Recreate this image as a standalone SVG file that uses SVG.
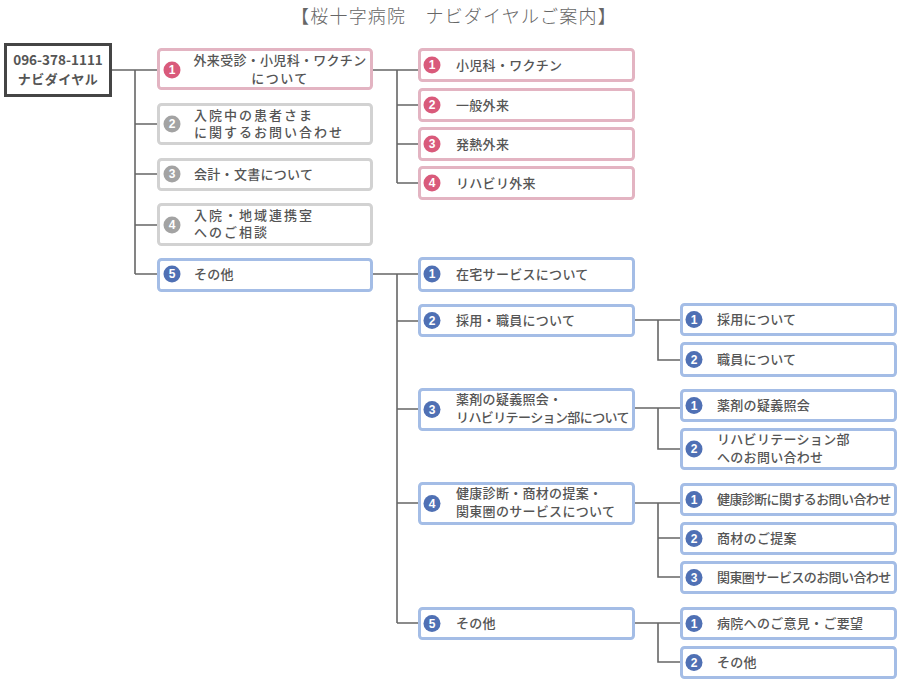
<svg xmlns="http://www.w3.org/2000/svg" width="900" height="685" viewBox="0 0 900 685">
<style>
text{font-family:"Noto Sans CJK JP","Noto Sans",sans-serif;fill:#555;}
.t{font-size:13px;font-weight:500;letter-spacing:0.3px;}
.w{letter-spacing:2px;}
.n{font-size:12px;font-weight:bold;fill:#fff;text-anchor:middle;font-family:"Liberation Sans",sans-serif;}
.bx{fill:#fff;stroke-width:3;}
.pk .bx{stroke:#e3b4c2;}
.pk circle{fill:#d95a7b;}
.gy .bx{stroke:#d2d2d2;}
.gy circle{fill:#a3a3a3;}
.bl .bx{stroke:#a4bde6;}
.bl circle{fill:#4f70b4;}
.con path{fill:none;stroke:#666;stroke-width:1.6;}
</style>
<text x="454" y="23" text-anchor="middle" style="font-size:18px;font-weight:300;letter-spacing:1.2px;fill:#666;">【桜十字病院　ナビダイヤルご案内】</text>
<g class="con">
<path d="M111,70H157M135,70V274M135,124H157M135,174H157M135,225H157M135,274H157"/>
<path d="M373,70H418M397,70V183M397,105H418M397,144H418M397,183H418"/>
<path d="M373,274H419M397,274V623M397,321H419M397,409H419M397,503H419M397,623H419"/>
<path d="M635,320H680M658,320V360H680"/>
<path d="M635,408H680M658,408V449H680"/>
<path d="M635,503H680M658,503V577H680M658,538H680"/>
<path d="M635,623H680M658,623V662H680"/>
</g>
<g id="root">
<rect x="5.5" y="44.5" width="105" height="51" fill="#fff" stroke="#454545" stroke-width="3"/>
<text x="58" y="65" text-anchor="middle" style="font-size:13.5px;font-weight:bold;">096-378-1111</text>
<text x="58" y="84" text-anchor="middle" style="font-size:13px;font-weight:bold;letter-spacing:0.5px;">ナビダイヤル</text>
</g>
<g id="l1-1" class="pk">
<rect class="bx" x="158.5" y="49.5" width="213" height="39" rx="3"/>
<circle cx="172" cy="70" r="8.5"/><text class="n" x="172" y="74.3">1</text>
<text class="t" x="280" y="65" text-anchor="middle">外来受診・小児科・ワクチン</text>
<text class="t" x="280" y="82.5" text-anchor="middle" style="letter-spacing:1.5px">について</text>
</g>
<g id="l1-2" class="gy">
<rect class="bx" x="158.5" y="104.5" width="213" height="39" rx="3"/>
<circle cx="172" cy="124" r="8.5"/><text class="n" x="172" y="128.3">2</text>
<text class="t w" x="194" y="119.5">入院中の患者さま</text>
<text class="t w" x="194" y="137">に関するお問い合わせ</text>
</g>
<g id="l1-3" class="gy">
<rect class="bx" x="158.5" y="159.5" width="213" height="30" rx="3"/>
<circle cx="172" cy="174" r="8.5"/><text class="n" x="172" y="178.3">3</text>
<text class="t" x="194" y="178.5">会計・文書について</text>
</g>
<g id="l1-4" class="gy">
<rect class="bx" x="158.5" y="204.5" width="213" height="40" rx="3"/>
<circle cx="172" cy="225" r="8.5"/><text class="n" x="172" y="229.3">4</text>
<text class="t w" x="194" y="219.5">入院・地域連携室</text>
<text class="t w" x="194" y="237">へのご相談</text>
</g>
<g id="l1-5" class="bl">
<rect class="bx" x="158.5" y="259.5" width="213" height="31" rx="3"/>
<circle cx="172" cy="274" r="8.5"/><text class="n" x="172" y="278.3">5</text>
<text class="t" x="194" y="278.5">その他</text>
</g>
<g id="p1" class="pk">
<rect class="bx" x="419.5" y="49.5" width="214" height="31" rx="3"/>
<circle cx="432" cy="65" r="8.5"/><text class="n" x="432" y="69.3">1</text>
<text class="t" x="456" y="69.5">小児科・ワクチン</text>
</g>
<g id="p2" class="pk">
<rect class="bx" x="419.5" y="89.5" width="214" height="31" rx="3"/>
<circle cx="432" cy="105" r="8.5"/><text class="n" x="432" y="109.3">2</text>
<text class="t" x="456" y="109.5">一般外来</text>
</g>
<g id="p3" class="pk">
<rect class="bx" x="419.5" y="128.5" width="214" height="31" rx="3"/>
<circle cx="432" cy="144" r="8.5"/><text class="n" x="432" y="148.3">3</text>
<text class="t" x="456" y="148.5">発熱外来</text>
</g>
<g id="p4" class="pk">
<rect class="bx" x="419.5" y="167.5" width="214" height="31" rx="3"/>
<circle cx="432" cy="183" r="8.5"/><text class="n" x="432" y="187.3">4</text>
<text class="t" x="456" y="187.5">リハビリ外来</text>
</g>
<g id="b1" class="bl">
<rect class="bx" x="419.5" y="258.5" width="214" height="32" rx="3"/>
<circle cx="432" cy="274" r="8.5"/><text class="n" x="432" y="278.3">1</text>
<text class="t" x="456" y="278.5">在宅サービスについて</text>
</g>
<g id="b2" class="bl">
<rect class="bx" x="419.5" y="305.5" width="214" height="30" rx="3"/>
<circle cx="432" cy="320.5" r="8.5"/><text class="n" x="432" y="324.8">2</text>
<text class="t" x="456" y="325">採用・職員について</text>
</g>
<g id="b3" class="bl">
<rect class="bx" x="419.5" y="389.5" width="214" height="40" rx="3"/>
<circle cx="432" cy="409.5" r="8.5"/><text class="n" x="432" y="413.8">3</text>
<text class="t" x="456" y="404">薬剤の疑義照会・</text>
<text class="t" x="456" y="422" style="letter-spacing:-0.6px">リハビリテーション部について</text>
</g>
<g id="b4" class="bl">
<rect class="bx" x="419.5" y="483.5" width="214" height="40" rx="3"/>
<circle cx="432" cy="503.5" r="8.5"/><text class="n" x="432" y="507.8">4</text>
<text class="t" x="456" y="498">健康診断・商材の提案・</text>
<text class="t" x="456" y="516">関東圏のサービスについて</text>
</g>
<g id="b5" class="bl">
<rect class="bx" x="419.5" y="608.5" width="214" height="30" rx="3"/>
<circle cx="432" cy="623.5" r="8.5"/><text class="n" x="432" y="627.8">5</text>
<text class="t" x="456" y="628">その他</text>
</g>
<g id="c1" class="bl">
<rect class="bx" x="681.5" y="304.5" width="214" height="30" rx="3"/>
<circle cx="694" cy="319.5" r="8.5"/><text class="n" x="694" y="323.8">1</text>
<text class="t" x="717" y="324">採用について</text>
</g>
<g id="c2" class="bl">
<rect class="bx" x="681.5" y="343.5" width="214" height="32" rx="3"/>
<circle cx="694" cy="359.5" r="8.5"/><text class="n" x="694" y="363.8">2</text>
<text class="t" x="717" y="364">職員について</text>
</g>
<g id="c3" class="bl">
<rect class="bx" x="681.5" y="390.5" width="214" height="30" rx="3"/>
<circle cx="694" cy="405.5" r="8.5"/><text class="n" x="694" y="409.8">1</text>
<text class="t" x="717" y="410">薬剤の疑義照会</text>
</g>
<g id="c4" class="bl">
<rect class="bx" x="681.5" y="429.5" width="214" height="39" rx="3"/>
<circle cx="694" cy="449" r="8.5"/><text class="n" x="694" y="453.3">2</text>
<text class="t" x="717" y="443.5">リハビリテーション部</text>
<text class="t" x="717" y="461.5">へのお問い合わせ</text>
</g>
<g id="d1" class="bl">
<rect class="bx" x="681.5" y="484.5" width="214" height="30" rx="3"/>
<circle cx="694" cy="499.5" r="8.5"/><text class="n" x="694" y="503.8">1</text>
<text class="t" x="717" y="504" style="letter-spacing:-0.6px">健康診断に関するお問い合わせ</text>
</g>
<g id="d2" class="bl">
<rect class="bx" x="681.5" y="523.5" width="214" height="30" rx="3"/>
<circle cx="694" cy="538.5" r="8.5"/><text class="n" x="694" y="542.8">2</text>
<text class="t" x="717" y="543">商材のご提案</text>
</g>
<g id="d3" class="bl">
<rect class="bx" x="681.5" y="562.5" width="214" height="30" rx="3"/>
<circle cx="694" cy="577.5" r="8.5"/><text class="n" x="694" y="581.8">3</text>
<text class="t" x="717" y="582" style="letter-spacing:-0.6px">関東圏サービスのお問い合わせ</text>
</g>
<g id="e1" class="bl">
<rect class="bx" x="681.5" y="608.5" width="214" height="30" rx="3"/>
<circle cx="694" cy="623.5" r="8.5"/><text class="n" x="694" y="627.8">1</text>
<text class="t" x="717" y="628">病院へのご意見・ご要望</text>
</g>
<g id="e2" class="bl">
<rect class="bx" x="681.5" y="647.5" width="214" height="30" rx="3"/>
<circle cx="694" cy="662.5" r="8.5"/><text class="n" x="694" y="666.8">2</text>
<text class="t" x="717" y="667">その他</text>
</g>
</svg>
